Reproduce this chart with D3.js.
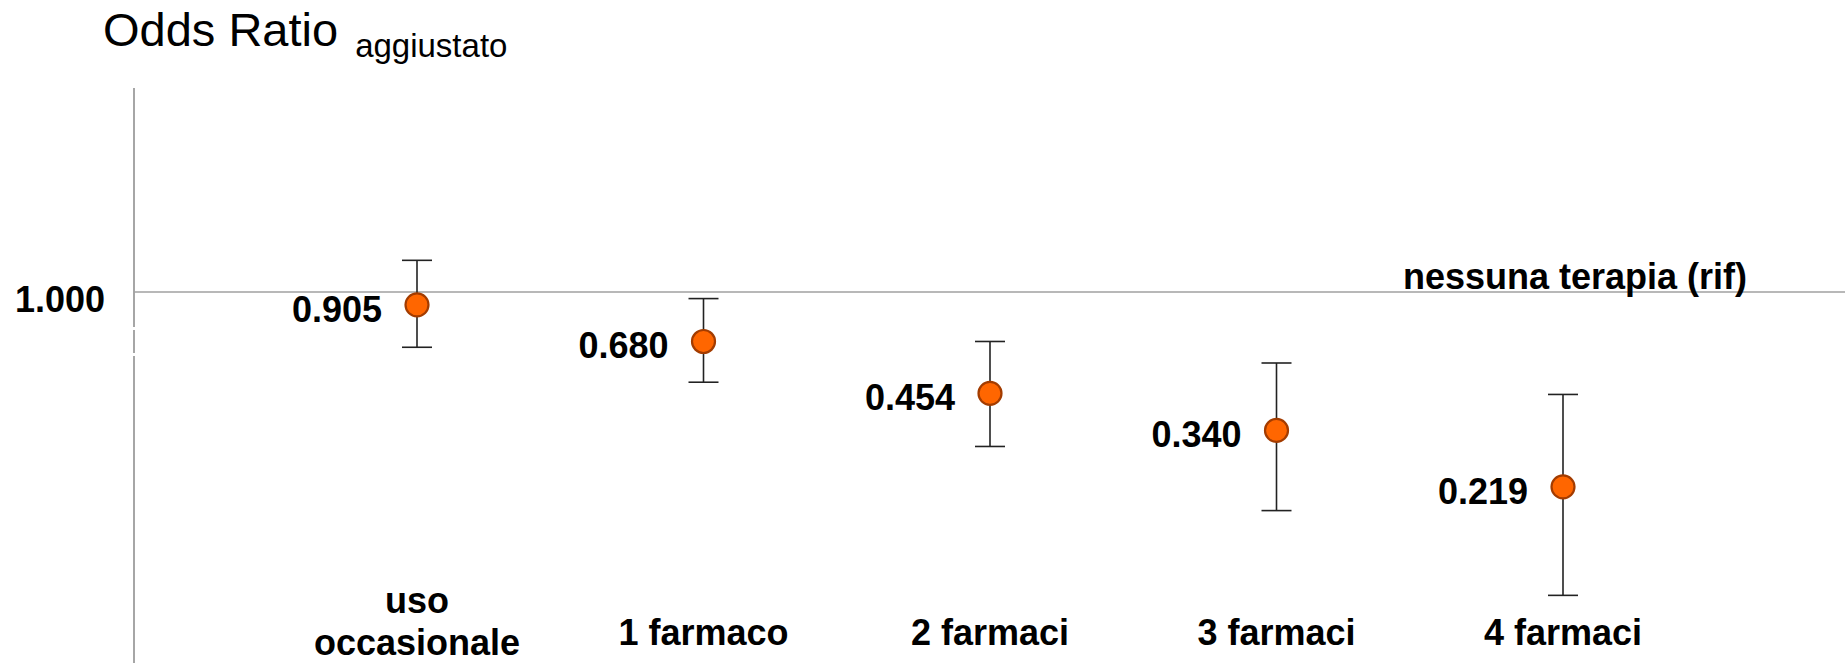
<!DOCTYPE html>
<html>
<head>
<meta charset="utf-8">
<script src="https://cdn.jsdelivr.net/npm/d3@7"></script>
<style>
  html, body { margin: 0; padding: 0; background: #fff; }
  svg { display: block; font-family: "Liberation Sans", Arial, Helvetica, sans-serif; }
</style>
</head>
<body>
<svg id="chart" width="1845" height="663"></svg>
<script>
// ---- data ----
const categories = ["uso occasionale", "1 farmaco", "2 farmaci", "3 farmaci", "4 farmaci"];
const orValues   = [0.905, 0.680, 0.454, 0.340, 0.219];
const ciLow      = [0.65, 0.495, 0.30, 0.182, 0.094];
const ciHigh     = [1.28, 0.95, 0.68, 0.575, 0.45];
const refValue   = 1.0;
const tickValues = [1.0];
const tickLabels = ["1.000"];
const refLabel   = "nessuna terapia (rif)";
const titleMain  = "Odds Ratio";
const titleSub   = "aggiustato";

const W = 1845, H = 663;
const svg = d3.select("#chart");

const axisX = 134;
const x = d3.scalePoint().domain(categories).range([417, 1563]);
const y = d3.scaleLog().domain([0.08, 1.5]).range([616.05, 239.98]);

const rows = categories.map((c, i) => ({ c, v: orValues[i], lo: ciLow[i], hi: ciHigh[i] }));

// title
const title = svg.append("text").attr("x", 103).attr("y", 46).attr("fill", "#000");
title.append("tspan").attr("font-size", 47).text(titleMain);
title.append("tspan").attr("font-size", 33).attr("dx", 17).attr("dy", 11).text(titleSub);

// y axis line (with small break)
svg.append("line").attr("x1", axisX).attr("x2", axisX).attr("y1", 88).attr("y2", H)
  .attr("stroke", "#a6a6a6").attr("stroke-width", 2);
[327, 353].forEach(g => svg.append("rect").attr("x", axisX - 2).attr("y", g).attr("width", 4).attr("height", 3).attr("fill", "#fff"));

// reference line
svg.append("line").attr("x1", axisX).attr("x2", W).attr("y1", y(refValue)).attr("y2", y(refValue))
  .attr("stroke", "#a0a0a0").attr("stroke-width", 1.6);

// y tick labels
const yAxis = d3.axisLeft(y).tickValues(tickValues).tickSize(0).tickPadding(29)
  .tickFormat((d, i) => tickLabels[i]);
const ga = svg.append("g").attr("transform", `translate(${axisX},0)`).call(yAxis);
ga.select(".domain").remove();
ga.selectAll("text").attr("font-size", 36).attr("font-weight", "bold").attr("fill", "#000")
  .attr("font-family", "Liberation Sans, Arial, sans-serif").attr("dy", "0.55em");

// reference label
svg.append("text").attr("x", 1747).attr("y", y(refValue) - 3).attr("text-anchor", "end")
  .attr("font-size", 36).attr("font-weight", "bold").attr("fill", "#000").text(refLabel);

// error bars
const cap = 15;
const eb = svg.append("g").attr("stroke", "#222").attr("stroke-width", 1.6);
rows.forEach(r => {
  const cx = x(r.c);
  eb.append("line").attr("x1", cx).attr("x2", cx).attr("y1", y(r.hi)).attr("y2", y(r.lo));
  eb.append("line").attr("x1", cx - cap).attr("x2", cx + cap).attr("y1", y(r.hi)).attr("y2", y(r.hi));
  eb.append("line").attr("x1", cx - cap).attr("x2", cx + cap).attr("y1", y(r.lo)).attr("y2", y(r.lo));
});

// points
svg.append("g").selectAll("circle").data(rows).join("circle")
  .attr("cx", d => x(d.c)).attr("cy", d => y(d.v)).attr("r", 11.5)
  .attr("fill", "#ff6600").attr("stroke", "#a33c00").attr("stroke-width", 2.2);

// value labels
svg.append("g").selectAll("text").data(rows).join("text")
  .attr("x", d => x(d.c) - 35).attr("y", d => y(d.v) + 17)
  .attr("text-anchor", "end").attr("font-size", 36).attr("font-weight", "bold").attr("fill", "#000")
  .text(d => d.v.toFixed(3));

// category labels
const cl = svg.append("g").attr("font-size", 36).attr("font-weight", "bold").attr("fill", "#000")
  .attr("text-anchor", "middle");
rows.forEach(r => {
  const words = r.c === "uso occasionale" ? ["uso", "occasionale"] : [r.c];
  const t = cl.append("text").attr("x", x(r.c)).attr("y", words.length > 1 ? 613 : 645);
  words.forEach((w, i) => t.append("tspan").attr("x", x(r.c)).attr("dy", i === 0 ? 0 : 42).text(w));
});
</script>
</body>
</html>
